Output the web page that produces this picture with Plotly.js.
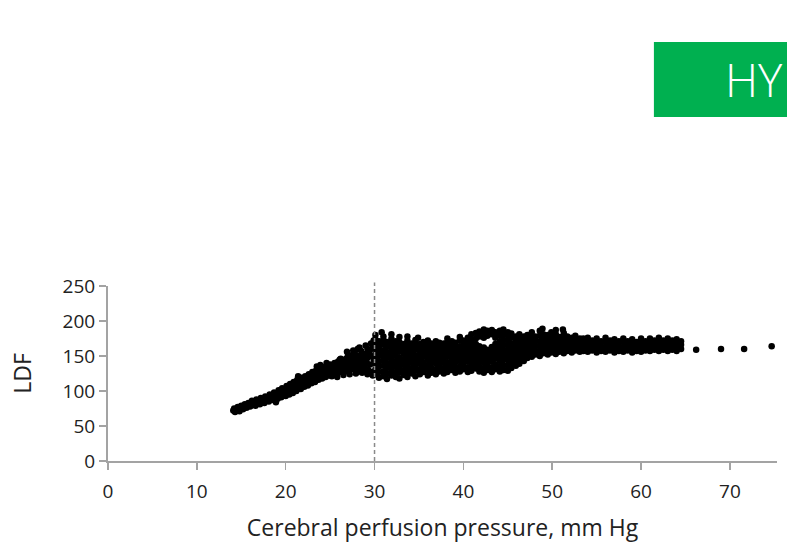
<!DOCTYPE html>
<html>
<head>
<meta charset="utf-8">
<script src="https://cdn.plot.ly/plotly-3.0.1.min.js"></script>
<style>html,body{margin:0;padding:0;background:#fff;}#chart{width:787px;height:548px;}</style>
</head>
<body>
<div id="chart"></div>
<script>
// Rising part of the cloud (cerebral perfusion pressure, mm Hg / LDF)
const rampCPP = [
  14.1,14.2,14.3,14.5,14.6,14.8,14.9,15.0,15.2,15.3,15.4,15.6,15.7,15.8,16.0,16.1,16.2,16.3,16.5,16.6,
  16.7,16.9,17.0,17.1,17.2,17.4,17.5,17.6,17.7,17.9,18.0,18.1,18.2,18.3,18.5,18.6,18.7,18.8,19.0,19.1,
  19.2,19.3,19.4,19.5,19.6,19.7,19.9,20.0,20.1,20.2,20.3,20.4,20.5,20.6,20.7,20.8,20.9,21.0,21.1,21.2,
  21.3,21.5,21.6,21.7,21.8,21.9,22.0,22.1,22.2,22.3,22.4,22.5,22.6,22.7,22.8,22.9,23.0,23.1,23.2,23.3,
  23.4,23.5,23.6,23.7,23.8,23.9,24.0,24.1,24.2,24.3,24.4,24.5,24.6,24.7,24.8,24.9,25.0,25.1,25.3,25.4,
  25.5,25.6,25.7,25.8,25.9,26.0,26.2,26.3,26.4,26.5,26.6,26.7,26.8,26.9,27.0,27.1,27.3,27.4,27.5,27.6,
  27.7,27.8,27.9,28.0,28.1,28.2,28.3,28.4,28.5,28.6,28.7,28.8,28.9,29.0,29.1,29.2,29.3,29.4,29.5,29.6,
  29.7,29.8,29.9,23.5,21.4,18.9,26.1,27.2,
  25.2,25.8,26.5,27.2,27.9,28.6,29.2,29.8,26.2,27.0,27.8,28.5,29.2,29.6,29.9,24.6,23.9,28.9,29.4,28.2,
  26.9,27.6,28.3,29.0,29.5
];
const rampLDF = [
  72,75,70,73,77,71,75,79,74,77,81,76,79,83,78,82,86,80,84,79,
  88,83,86,81,90,85,88,83,92,87,91,85,95,89,93,87,98,91,95,89,
  101,93,98,91,104,96,100,93,107,98,103,95,110,100,106,97,113,103,109,100,
  116,106,112,103,119,109,115,106,121,112,118,108,124,114,120,111,127,117,123,113,
  129,119,125,116,132,122,128,118,134,124,130,120,136,126,132,122,138,128,134,124,
  140,130,136,125,142,132,138,127,144,133,139,128,146,135,141,130,147,136,142,131,
  149,138,144,133,160,150,139,145,134,152,141,147,135,153,142,148,130,156,138,150,
  127,163,145,135,121,84,145,151,
  121,120,123,124,125,126,124,122,146,150,153,157,160,168,172,140,137,130,128,128,
  156,158,162,165,159
];
// Dense plateau: x positions of columns and the LDF values read in each column
const plateauCPP = [
  30.1,30.5,31.0,31.4,31.9,32.4,32.8,33.3,33.7,34.2,34.6,35.1,35.5,36.0,36.4,36.9,37.3,37.8,38.2,38.7,
  39.1,39.6,40.0,40.5,40.9,41.4,41.8,42.3,42.7,43.2,43.6,44.1,44.5,45.0,45.4,45.9,46.3,46.8,47.2,47.7,
  48.1,48.6,49.0,49.5,49.9,50.4,50.8,51.3,51.7,52.2,52.6,53.1,53.5,54.0,54.5,55.0,55.5,56.0,56.5,57.0,
  57.5,58.0,58.5,59.0,59.5,60.0,60.5,61.0,61.5,62.0,62.5,63.0,63.5,64.0,64.5
];
const plateauLDF = [
  [124,131,139,146,153,160,167,174,180],[119,127,135,142,150,157,164,171],[121,128,136,144,151,158,166,173,178],
  [117,125,133,140,148,155,163,170],[122,130,137,145,152,160,167,175,181],[120,127,135,142,150,157,164,171],
  [118,126,133,141,148,156,163,170,177],[123,130,138,145,153,160,167],[120,128,135,143,150,158,165,172,178],
  [125,132,140,147,154,161,168],[121,129,136,144,151,159,166,173],[124,131,139,146,153,160,167],
  [127,134,141,149,156,163,170],[122,130,137,145,152,159,166,172],[126,133,141,148,155,162,168],
  [124,131,139,146,153,160,167,171],[128,135,142,149,156,163,169],[125,132,140,147,154,161,168],
  [127,134,141,149,156,163,170,175],[130,137,144,151,158,165,171],[126,133,141,148,155,162,169],
  [128,135,143,150,157,164,172,177],[131,138,145,152,159,166,172],[127,134,142,149,156,163,170,176],
  [129,136,144,151,158,165,173,181],[132,139,146,153,160,167,175,183],[128,135,143,150,157,164,178,185],
  [126,133,141,148,155,162,176,184,188],[130,137,145,152,159,179,186],[127,134,142,149,156,163,181,187],
  [131,138,146,153,160,167,176,184],[128,135,143,150,157,164,171,179,186],[130,137,145,152,159,166,173,181,188],
  [129,136,144,151,158,165,172,179,184],[133,140,147,154,161,168,176,182],[136,143,150,157,164,171,178],
  [139,146,153,160,167,174,181],[143,150,157,164,171,178],[147,153,160,167,174,180],
  [149,156,163,170,177,184],[152,158,165,172,178],[150,157,164,171,179,186],
  [154,161,168,175,181],[152,159,166,173,180],[155,162,169,176,184],
  [153,160,167,174,181,187],[156,163,170,177],[154,161,168,175,183],
  [157,164,171,178],[155,162,169,176],[158,165,172,179],
  [156,163,170,175],[157,164,171,175],[156,163,170,176],[158,165,172],
  [155,162,169,175],[157,164,171],[156,163,170,176],[158,165,172],
  [155,162,168,174],[157,164,171],[156,163,170,175],[158,165,171],
  [155,161,168,174],[157,164,170],[156,162,169,175],[158,165,171],
  [157,163,169,175],[159,165,172],[157,163,170,176],[159,166,172],
  [157,164,170,175],[159,165,172],[157,163,169,174],[160,166,171]
];
// Isolated points at high pressure and a few scattered edge points
const tailCPP = [66.2, 69.0, 71.6, 74.7, 30.8, 34.9, 48.9, 51.2];
const tailLDF = [159, 160, 160, 164, 184, 176, 189, 188];

const xTickValues = [0,10,20,30,40,50,60,70];
const yTickValues = [0,50,100,150,200,250];
const thresholdCPP = 30;
const xTitle = "Cerebral perfusion pressure, mm Hg";
const yTitle = "LDF";
const bannerText = "HY";

const cpp = rampCPP.slice(), ldf = rampLDF.slice();
plateauCPP.forEach((c, i) => plateauLDF[i].forEach(v => { cpp.push(c); ldf.push(v); }));
tailCPP.forEach((c, i) => { cpp.push(c); ldf.push(tailLDF[i]); });

const axisColor = "#a3a3a3";
const fontFam = "'Open Sans', 'Noto Sans', sans-serif";

const trace = {
  x: cpp, y: ldf, type: "scatter", mode: "markers",
  marker: {color: "#000000", size: 6.5, line: {width: 0}},
  hoverinfo: "skip", showlegend: false
};

const layout = {
  width: 787, height: 548,
  margin: {l: 108, r: 10, t: 286, b: 87},
  paper_bgcolor: "#ffffff", plot_bgcolor: "#ffffff",
  font: {family: fontFam, color: "#222222", size: 17},
  xaxis: {
    range: [0, 75.3], tickvals: xTickValues, ticktext: xTickValues.map(String),
    showgrid: false, zeroline: false, showline: true, linecolor: axisColor, linewidth: 2,
    ticks: "outside", ticklen: 7, tickwidth: 1.5, tickcolor: axisColor,
    ticklabelstandoff: 5,
    tickfont: {size: 19, color: "#222"},
    title: {text: xTitle, font: {size: 23, color: "#222"}, standoff: 17}
  },
  yaxis: {
    range: [0, 250], tickvals: yTickValues, ticktext: yTickValues.map(String),
    showgrid: false, zeroline: false, showline: true, linecolor: axisColor, linewidth: 2,
    ticks: "outside", ticklen: 7, tickwidth: 1.5, tickcolor: axisColor,
    tickfont: {size: 19, color: "#222"},
    title: {text: yTitle, font: {size: 23, color: "#222"}, standoff: 25}
  },
  shapes: [
    {type: "line", xref: "x", yref: "paper", x0: thresholdCPP, x1: thresholdCPP, y0: 0, y1: 1.02,
     line: {color: "#8a8a8a", width: 1.5, dash: "4px,3px"}},
    {type: "rect", xref: "paper", yref: "paper", x0: 0.816, x1: 1.05, y0: 1.966, y1: 2.394,
     fillcolor: "#00b050", line: {width: 0}, layer: "above"}
  ],
  annotations: [
    {xref: "paper", yref: "paper", x: 1.012, y: 2.18, xanchor: "right", yanchor: "middle",
     text: bannerText, showarrow: false, font: {family: fontFam, size: 46, color: "#ffffff", weight: 300}}
  ]
};

Plotly.newPlot("chart", [trace], layout, {displayModeBar: false, staticPlot: true});
</script>
</body>
</html>
